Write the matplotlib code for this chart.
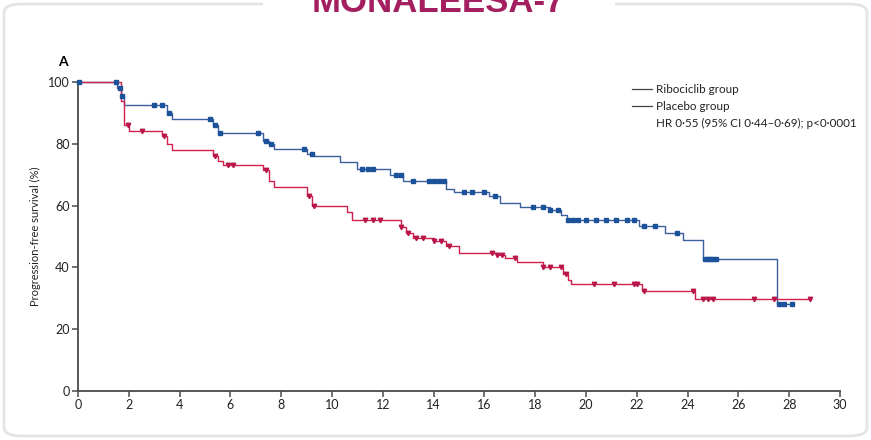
import numpy as np
import matplotlib.pyplot as plt
from matplotlib.patches import FancyBboxPatch, Rectangle
from matplotlib.lines import Line2D

plt.rcParams['font.family'] = ['Lato', 'DejaVu Sans']

# Kaplan-Meier steps: event times (months) and survival (%) after each drop
ribo_times = [1.55, 1.7, 1.8, 3.5, 3.7, 5.3, 5.5, 7.3, 7.5, 7.7, 9.0, 9.3, 10.3,
              11.0, 12.3, 12.8, 14.5, 14.8, 16.2, 16.6, 17.4, 18.6, 19.0, 19.25,
              22.1, 23.1, 23.8, 24.6, 27.5]
ribo_surv = [98, 95.5, 92.6, 90, 88, 86, 83.5, 81, 80, 78.3, 76.8, 76, 74.2,
             72, 70, 67.8, 65.5, 64.4, 63.2, 60.8, 59.5, 58.5, 57, 55.3,
             53.5, 51, 49, 42.7, 28.2]
ribo_censor = [0.05, 1.5, 1.65, 1.75, 3.0, 3.3, 3.6, 5.2, 5.4, 5.6, 7.1, 7.4, 7.6,
               8.9, 9.2, 11.2, 11.4, 11.6, 12.5, 12.7, 13.2, 13.8, 14.0, 14.2, 14.4,
               15.2, 15.5, 16.0, 16.4, 17.9, 18.3, 18.6, 18.9, 19.3, 19.5, 19.7,
               20.0, 20.4, 20.8, 21.2, 21.6, 21.9, 22.3, 22.7, 23.6, 24.7, 24.8,
               24.9, 25.0, 25.1, 27.6, 27.8, 28.1]
ribo_end = 28.1

plac_times = [1.7, 1.8, 2.0, 3.3, 3.5, 3.7, 5.3, 5.5, 5.7, 7.3, 7.5, 7.7, 9.0,
              9.2, 10.6, 10.8, 12.7, 12.9, 13.2, 14.0, 14.5, 15.0, 16.5, 16.8,
              17.3, 18.3, 19.1, 19.3, 19.4, 22.2, 24.3]
plac_surv = [94, 86, 84, 82.5, 80, 78, 76, 74.5, 73, 71.5, 68, 66, 63,
             60, 58, 55.3, 53, 51, 49.5, 48.5, 47, 44.8, 44, 43,
             41.8, 40, 38, 36, 34.6, 32.4, 29.8]
plac_censor = [1.95, 2.5, 3.4, 5.4, 5.9, 6.1, 7.4, 9.1, 9.3, 11.3, 11.6, 11.9,
               12.7, 13.0, 13.3, 13.6, 14.0, 14.3, 14.6, 16.3, 16.5, 16.7, 17.2,
               18.3, 18.6, 19.0, 19.2, 20.3, 21.1, 21.9, 22.0, 22.3, 24.2, 24.6,
               24.8, 25.0, 26.6, 27.4, 28.8]
plac_end = 28.8

x_ticks = list(range(0, 31, 2))
y_ticks = [0, 20, 40, 60, 80, 100]
legend_labels = ['Ribociclib group', 'Placebo group']
hr_text = 'HR 0·55 (95% CI 0·44–0·69); p<0·0001'


def km_curve(times, surv, end):
    t = np.concatenate([[0], times, [end]])
    s = np.concatenate([[100], surv, [surv[-1]]])
    return t, s


def surv_at(times, surv, x):
    idx = np.searchsorted(times, x, side='right')
    return np.where(idx == 0, 100, np.array(surv)[np.maximum(idx - 1, 0)])


fig = plt.figure(figsize=(8.71, 4.4), dpi=100)
fig.patch.set_facecolor('white')

# rounded panel and title tab (kept behind the axes)
panel = FancyBboxPatch((4 / 871, 4 / 440), 863 / 871, 432 / 440,
                       boxstyle='round,pad=0,rounding_size=0.02',
                       transform=fig.transFigure, facecolor='white',
                       edgecolor='#e4e4e4', lw=2, zorder=-2)
fig.patches.append(panel)
fig.patches.append(Rectangle((263 / 871, 425 / 440), 352 / 871, 20 / 440,
                             transform=fig.transFigure, facecolor='white',
                             edgecolor='none', zorder=-1))
fig.text(438 / 871, 428 / 440, 'MONALEESA-7', ha='center', va='baseline',
         fontsize=25, fontweight='bold', color='#a31f5f',
         family=['Liberation Sans', 'DejaVu Sans'])

ax = fig.add_axes([78 / 871, 49 / 440, 762 / 871, 309 / 440])
ax.set_facecolor('none')

blue_line, blue_mark = '#3b5f9e', '#1c5299'
red_line, red_mark = '#d21f4b', '#b8164a'

t, s = km_curve(ribo_times, ribo_surv, ribo_end)
ax.step(t, s, where='post', color=blue_line, lw=1.0, clip_on=False, zorder=3)
ax.plot(ribo_censor, surv_at(ribo_times, ribo_surv, ribo_censor), 's',
        color=blue_mark, ms=3.5, clip_on=False, zorder=4)

t, s = km_curve(plac_times, plac_surv, plac_end)
ax.step(t, s, where='post', color=red_line, lw=1.0, clip_on=False, zorder=3)
ax.plot(plac_censor, surv_at(plac_times, plac_surv, plac_censor), 'v',
        color=red_mark, ms=3.2, clip_on=False, zorder=4)

ax.set_xlim(0, 30)
ax.set_ylim(0, 100)
ax.set_xticks(x_ticks)
ax.set_yticks(y_ticks)
for side in ['top', 'right']:
    ax.spines[side].set_visible(False)
for side in ['left', 'bottom']:
    ax.spines[side].set_color('#4a4a4a')
    ax.spines[side].set_linewidth(1.3)
ax.tick_params(direction='out', length=4, width=1.1, color='#4a4a4a',
               labelsize=9, labelcolor='#222222', pad=2)
ax.set_ylabel('Progression-free survival (%)', fontsize=8, color='#222222',
              labelpad=5)
ax.text(-0.02, 1.065, 'A', transform=ax.transAxes, fontsize=10,
        fontweight='bold', ha='center', va='center')

# legend block
legend_y = [0.977, 0.922]
for yy, lab in zip(legend_y, legend_labels):
    ax.add_line(Line2D([0.727, 0.753], [yy, yy], transform=ax.transAxes,
                       color='#444444', lw=0.9, clip_on=False))
    ax.text(0.758, yy, lab, transform=ax.transAxes, fontsize=8.4,
            va='center', ha='left', color='#222222')
ax.text(0.758, 0.867, hr_text, transform=ax.transAxes,
        fontsize=8.4, va='center', ha='left', color='#222222')

fig.savefig('out.png', dpi=100)
